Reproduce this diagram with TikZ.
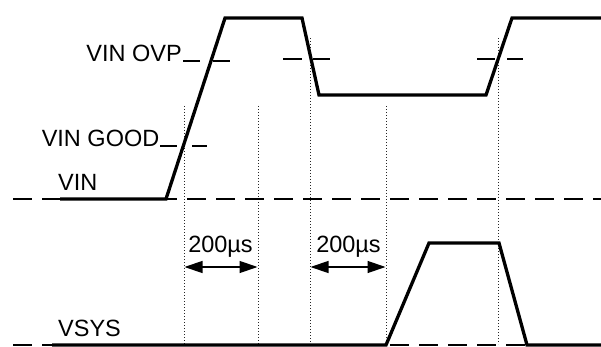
\documentclass[tikz,border=0pt]{standalone}
\usepackage{fontspec}
\setmainfont{Liberation Sans}
\usetikzlibrary{arrows.meta}
\begin{document}
\begin{tikzpicture}[x=1pt,y=-1pt,
  sig/.style={line width=3.3pt,line join=miter},
  base/.style={line width=2pt,dash pattern=on 19pt off 10pt},
  tick/.style={line width=2pt},
  guide/.style={line width=1pt,black!85,dash pattern=on 1pt off 2pt},
  lbl/.style={inner sep=0pt,font=\fontsize{23.5}{27}\selectfont},
  dim/.style={line width=1.3pt,{Triangle[length=18pt,width=12pt]}-{Triangle[length=18pt,width=12pt]}}]
\useasboundingbox (0,0) rectangle (601,347);
% guide lines
\draw[guide] (184,106) -- (184,344);
\draw[guide] (258,106) -- (258,344);
\draw[guide] (310,38) -- (310,344);
\draw[guide] (386,106) -- (386,344);
\draw[guide] (498,38) -- (498,344);
% baselines
\draw[base] (13,199) -- (601,199);
\draw[base] (13,345) -- (601,345);
% VIN signal
\draw[sig] (60,199) -- (166,199) -- (225,18) -- (302,18) -- (319,95) -- (486,95) -- (512,18) -- (601,18);
% VSYS signal
\draw[sig] (52,345) -- (386,345) -- (429,243) -- (499,243) -- (527,345) -- (601,345);
% threshold ticks
\draw[tick] (183,61.5) -- (200,61.5) (213,61.5) -- (230,61.5);
\draw[tick] (160,146.5) -- (177,146.5) (192,146.5) -- (207,146.5);
\draw[tick] (283,59) -- (302,59) (313,59) -- (330,59);
\draw[tick] (477,59) -- (495,59) (507,59) -- (523,59);
% labels
\node[lbl,anchor=base east] (ovp) at (182,61.5) {VIN OVP};
\node[lbl,anchor=base east] (good) at (159.5,146.5) {VIN GOOD};
\node[lbl,anchor=base west] (vin) at (58,190) {VIN};
\node[lbl,anchor=base west] (vsys) at (58,336) {VSYS};
\node[lbl,anchor=base] (t1) at (220.5,252.5) {200µs};
\node[lbl,anchor=base] (t2) at (348.5,252.5) {200µs};
% dimension arrows
\coordinate (a1) at (184.5,267);
\coordinate (b1) at (257.5,267);
\coordinate (a2) at (310.5,267);
\coordinate (b2) at (385.5,267);
\draw[dim] (a1) -- (b1);
\draw[dim] (a2) -- (b2);
\end{tikzpicture}
\end{document}
